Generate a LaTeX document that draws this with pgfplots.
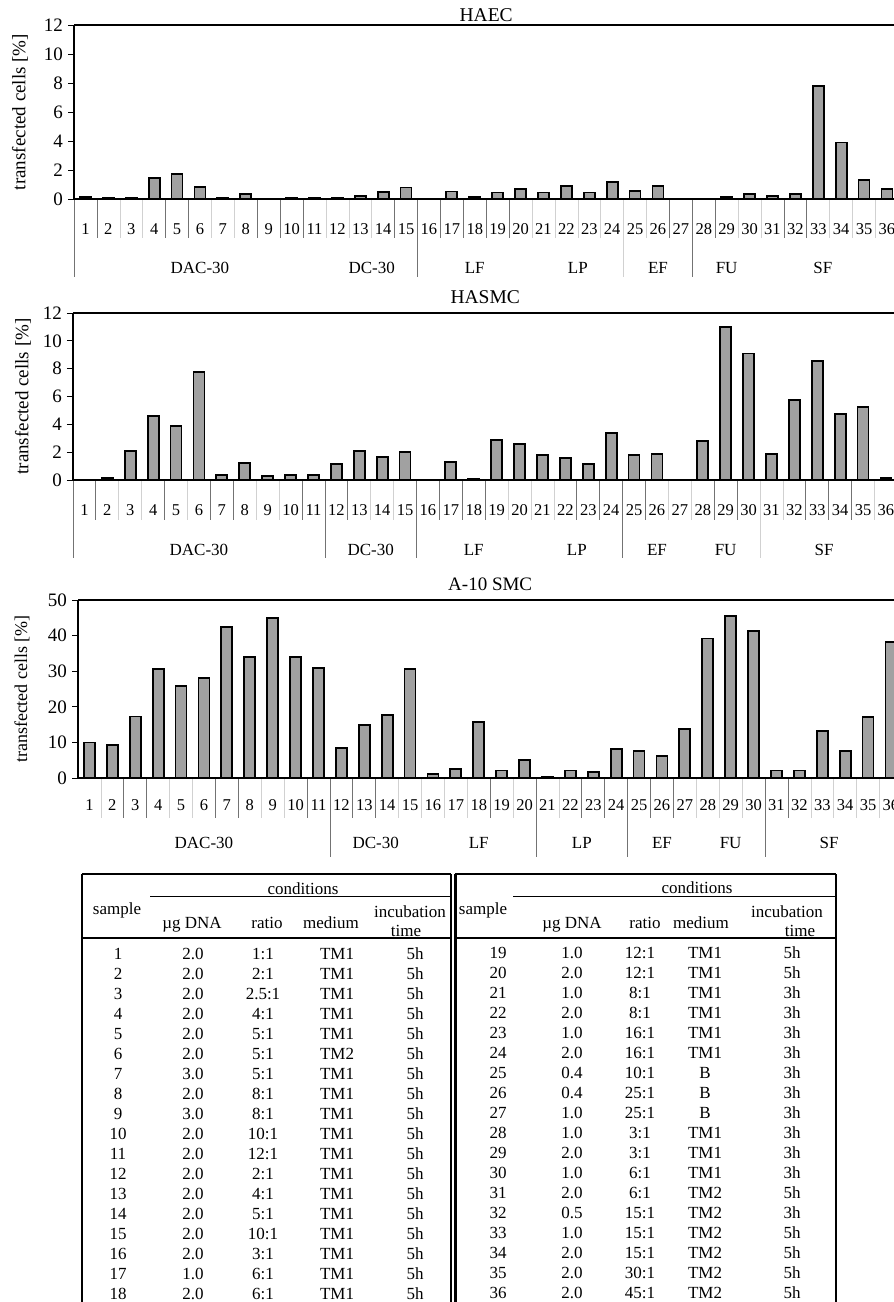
\documentclass[border=0pt]{standalone}
\usepackage{pgfplots}
\pgfplotsset{compat=1.18}
\usepackage{fontspec}
\setmainfont{Liberation Serif}
\newcommand{\fs}[1]{\fontsize{#1}{#1}\selectfont}
\pgfplotsset{
  panel/.style={
    scale only axis, width=824.4pt,
    xmin=0.5, xmax=36.5, ymin=0,
    axis line style={draw=none},
    ytick pos=left, tick align=outside,
    major tick length=6pt,
    tick style={black, line width=1pt},
    xtick=\empty,
    yticklabel style={font=\fs{19}, inner sep=5pt},
    /pgf/number format/assume math mode=true,
    ybar, bar width=11pt,
    clip=false,
    anchor=south west,
  },
  bars/.style={fill=black!37, draw=black, line width=1.8pt},
}
\tikzset{sep/.style={draw=black!55, line width=0.8pt},
         faint/.style={draw=black!18, line width=0.6pt}}
\begin{document}
\begin{tikzpicture}[x=1pt,y=-1pt]

%% ---------------- HAEC ----------------
\begin{axis}[panel, at={(74pt,-199pt)}, height=174pt, ymax=12, ytick={0,2,...,12}]
\addplot[bars] coordinates {(1,0.12)(2,0.1)(3,0.1)(4,1.45)(5,1.75)(6,0.83)(7,0.1)(8,0.35)(9,0)(10,0.1)(11,0.1)(12,0.1)(13,0.23)(14,0.46)(15,0.8)(16,0)(17,0.52)(18,0.12)(19,0.45)(20,0.7)(21,0.45)(22,0.87)(23,0.45)(24,1.17)(25,0.53)(26,0.87)(27,0)(28,0)(29,0.12)(30,0.37)(31,0.22)(32,0.37)(33,7.82)(34,3.9)(35,1.33)(36,0.69)};
\draw[line width=2.2pt] (rel axis cs:0,1) -- (rel axis cs:1,1);
\draw[line width=1.2pt] (rel axis cs:0,0) -- (rel axis cs:0,1);
\node[font=\fs{19.5}] at ([yshift=10pt]rel axis cs:0.5,1) {HAEC};
\node[font=\fs{19}, rotate=90] at ([xshift=-54pt]rel axis cs:0,0.5) {transfected cells [\%]};
\pgfplotsinvokeforeach{1,...,36}{\node[font=\fs{16.5}] at ([yshift=-30pt]axis cs:#1,0) {#1};}
\pgfplotsinvokeforeach{2.5,3.5,6.5,7.5,11.5,12.5,13.5,20.5,21.5,22.5,23.5,25.5,29.5,30.5,33.5,34.5,35.5}{\draw[faint] (axis cs:#1,0) -- ++(0pt,-39pt);}
\pgfplotsinvokeforeach{1.5,4.5,5.5,8.5,9.5,10.5,14.5,16.5,17.5,18.5,19.5,26.5,28.5,31.5,32.5}{\draw[sep] (axis cs:#1,0) -- ++(0pt,-39pt);}
\draw[faint] (axis cs:24.5,0) -- ++(0pt,-78pt);
\pgfplotsinvokeforeach{0.5,15.5,27.5}{\draw[sep] (axis cs:#1,0) -- ++(0pt,-78pt);}
\draw[line width=2.2pt] (rel axis cs:0,0) -- (rel axis cs:1,0);
\node[font=\fs{17}] at ([yshift=-69pt]axis cs:6,0) {DAC-30};
\node[font=\fs{17}] at ([yshift=-69pt]axis cs:13.5,0) {DC-30};
\node[font=\fs{17}] at ([yshift=-69pt]axis cs:18,0) {LF};
\node[font=\fs{17}] at ([yshift=-69pt]axis cs:22.5,0) {LP};
\node[font=\fs{17}] at ([yshift=-69pt]axis cs:26,0) {EF};
\node[font=\fs{17}] at ([yshift=-69pt]axis cs:29,0) {FU};
\node[font=\fs{17}] at ([yshift=-69pt]axis cs:33.2,0) {SF};
\end{axis}

%% ---------------- HASMC ----------------
\begin{axis}[panel, at={(73pt,-480pt)}, height=167pt, ymax=12, ytick={0,2,...,12}]
\addplot[bars] coordinates {(1,0)(2,0.12)(3,2.08)(4,4.6)(5,3.9)(6,7.78)(7,0.36)(8,1.24)(9,0.29)(10,0.36)(11,0.36)(12,1.15)(13,2.08)(14,1.67)(15,1.99)(16,0)(17,1.32)(18,0.1)(19,2.85)(20,2.56)(21,1.8)(22,1.6)(23,1.15)(24,3.35)(25,1.8)(26,1.87)(27,0)(28,2.82)(29,11.0)(30,9.09)(31,1.89)(32,5.74)(33,8.54)(34,4.76)(35,5.26)(36,0.15)};
\draw[line width=2.2pt] (rel axis cs:0,1) -- (rel axis cs:1,1);
\draw[line width=1.2pt] (rel axis cs:0,0) -- (rel axis cs:0,1);
\node[font=\fs{19.5}] at ([yshift=16pt]rel axis cs:0.5,1) {HASMC};
\node[font=\fs{19}, rotate=90] at ([xshift=-50pt]rel axis cs:0,0.5) {transfected cells [\%]};
\pgfplotsinvokeforeach{1,...,36}{\node[font=\fs{16.5}] at ([yshift=-30pt]axis cs:#1,0) {#1};}
\pgfplotsinvokeforeach{2.5,3.5,5.5,8.5,9.5,13.5,14.5,19.5,20.5,21.5,26.5,27.5,31.5,35.5}{\draw[faint] (axis cs:#1,0) -- ++(0pt,-40pt);}
\pgfplotsinvokeforeach{1.5,4.5,6.5,7.5,10.5,12.5,16.5,17.5,18.5,22.5,23.5,25.5,28.5,29.5,32.5,33.5,34.5}{\draw[sep] (axis cs:#1,0) -- ++(0pt,-40pt);}
\draw[faint] (axis cs:30.5,0) -- ++(0pt,-78pt);
\pgfplotsinvokeforeach{0.5,11.5,15.5,24.5}{\draw[sep] (axis cs:#1,0) -- ++(0pt,-78pt);}
\draw[line width=2.2pt] (rel axis cs:0,0) -- (rel axis cs:1,0);
\node[font=\fs{17}] at ([yshift=-70pt]axis cs:6,0) {DAC-30};
\node[font=\fs{17}] at ([yshift=-70pt]axis cs:13.5,0) {DC-30};
\node[font=\fs{17}] at ([yshift=-70pt]axis cs:18,0) {LF};
\node[font=\fs{17}] at ([yshift=-70pt]axis cs:22.5,0) {LP};
\node[font=\fs{17}] at ([yshift=-70pt]axis cs:26,0) {EF};
\node[font=\fs{17}] at ([yshift=-70pt]axis cs:29,0) {FU};
\node[font=\fs{17}] at ([yshift=-70pt]axis cs:33.3,0) {SF};
\end{axis}

%% ---------------- A-10 SMC ----------------
\begin{axis}[panel, at={(78pt,-778pt)}, height=178pt, ymax=50, ytick={0,10,...,50}]
\addplot[bars] coordinates {(1,10.0)(2,9.35)(3,17.3)(4,30.7)(5,25.9)(6,28.1)(7,42.5)(8,33.9)(9,44.9)(10,33.9)(11,31.0)(12,8.5)(13,14.8)(14,17.6)(15,30.7)(16,1.1)(17,2.6)(18,15.8)(19,2.1)(20,5.1)(21,0.4)(22,2.1)(23,1.8)(24,8.1)(25,7.7)(26,6.2)(27,13.7)(28,39.2)(29,45.4)(30,41.3)(31,2.1)(32,2.1)(33,13.2)(34,7.6)(35,17.1)(36,38.3)};
\draw[line width=1.5pt] (rel axis cs:0,1) -- (rel axis cs:1,1);
\draw[line width=1.2pt] (rel axis cs:0,0) -- (rel axis cs:0,1);
\node[font=\fs{19}] at ([yshift=16pt]rel axis cs:0.5,1) {A-10 SMC};
\node[font=\fs{18}, rotate=90] at ([xshift=-56pt]rel axis cs:0,0.5) {transfected cells [\%]};
\pgfplotsinvokeforeach{1,...,36}{\node[font=\fs{16.5}] at ([yshift=-27pt]axis cs:#1,0) {#1};}
\pgfplotsinvokeforeach{1.5,4.5,5.5,8.5,9.5,14.5,15.5,16.5,17.5,19.5,21.5,27.5,28.5,29.5,32.5,33.5,34.5,35.5}{\draw[faint] (axis cs:#1,0) -- ++(0pt,-40pt);}
\pgfplotsinvokeforeach{2.5,3.5,6.5,7.5,10.5,12.5,13.5,18.5,22.5,23.5,25.5,26.5,31.5}{\draw[sep] (axis cs:#1,0) -- ++(0pt,-40pt);}
\pgfplotsinvokeforeach{11.5,20.5,24.5,30.5}{\draw[sep] (axis cs:#1,0) -- ++(0pt,-79pt);}
\draw[line width=2.2pt] (rel axis cs:0,0) -- (rel axis cs:1,0);
\node[font=\fs{17}] at ([yshift=-65pt]axis cs:6,0) {DAC-30};
\node[font=\fs{17}] at ([yshift=-65pt]axis cs:13.5,0) {DC-30};
\node[font=\fs{17}] at ([yshift=-65pt]axis cs:18,0) {LF};
\node[font=\fs{17}] at ([yshift=-65pt]axis cs:22.5,0) {LP};
\node[font=\fs{17}] at ([yshift=-65pt]axis cs:26,0) {EF};
\node[font=\fs{17}] at ([yshift=-65pt]axis cs:29,0) {FU};
\node[font=\fs{17}] at ([yshift=-65pt]axis cs:33.3,0) {SF};
\end{axis}

%% ---------------- Table ----------------
\begin{scope}[font=\fs{17}, every node/.style={anchor=base, inner sep=0pt}]
\draw[line width=2.5pt] (82,874) -- (451,874);
\draw[line width=2.5pt] (455,874) -- (836,874);
\draw[line width=2.5pt] (82,874) -- (82,1310);
\draw[line width=1.5pt] (451,874) -- (451,1310);
\draw[line width=2.5pt] (455.5,874) -- (455.5,1310);
\draw[line width=2.5pt] (836,874) -- (836,1310);
\draw[line width=0.9pt] (150,896) -- (451,896);
\draw[line width=0.9pt] (513,896) -- (836,896);
\draw[line width=1.2pt] (82,938) -- (451,938);
\draw[line width=1.2pt] (455,938) -- (836,938);
% headers left
\node at (303,894) {conditions};
\node at (117,914) {sample};
\node at (192,928) {µg DNA};
\node at (267,928) {ratio};
\node at (331,928) {medium};
\node at (410,917) {incubation};
\node at (406,936) {time};
% headers right
\node at (697,893) {conditions};
\node at (483,914) {sample};
\node at (572,928) {µg DNA};
\node at (645,928) {ratio};
\node at (701,928) {medium};
\node at (787,917) {incubation};
\node at (800,936) {time};
\foreach \s/\d/\r/\m/\t [count=\i from 0] in {1/2.0/1:1/TM1/5h, 2/2.0/2:1/TM1/5h, 3/2.0/2.5:1/TM1/5h, 4/2.0/4:1/TM1/5h, 5/2.0/5:1/TM1/5h, 6/2.0/5:1/TM2/5h, 7/3.0/5:1/TM1/5h, 8/2.0/8:1/TM1/5h, 9/3.0/8:1/TM1/5h, 10/2.0/10:1/TM1/5h, 11/2.0/12:1/TM1/5h, 12/2.0/2:1/TM1/5h, 13/2.0/4:1/TM1/5h, 14/2.0/5:1/TM1/5h, 15/2.0/10:1/TM1/5h, 16/2.0/3:1/TM1/5h, 17/1.0/6:1/TM1/5h, 18/2.0/6:1/TM1/5h}{
  \node at (118,959+20*\i) {\s};
  \node at (193,959+20*\i) {\d};
  \node at (263,959+20*\i) {\r};
  \node at (337,959+20*\i) {\m};
  \node at (415,959+20*\i) {\t};
}
\foreach \s/\d/\r/\m/\t [count=\i from 0] in {19/1.0/12:1/TM1/5h, 20/2.0/12:1/TM1/5h, 21/1.0/8:1/TM1/3h, 22/2.0/8:1/TM1/3h, 23/1.0/16:1/TM1/3h, 24/2.0/16:1/TM1/3h, 25/0.4/10:1/B/3h, 26/0.4/25:1/B/3h, 27/1.0/25:1/B/3h, 28/1.0/3:1/TM1/3h, 29/2.0/3:1/TM1/3h, 30/1.0/6:1/TM1/3h, 31/2.0/6:1/TM2/5h, 32/0.5/15:1/TM2/3h, 33/1.0/15:1/TM2/5h, 34/2.0/15:1/TM2/5h, 35/2.0/30:1/TM2/5h, 36/2.0/45:1/TM2/5h}{
  \node at (498,958+20*\i) {\s};
  \node at (572,958+20*\i) {\d};
  \node at (640,958+20*\i) {\r};
  \node at (705,958+20*\i) {\m};
  \node at (792,958+20*\i) {\t};
}
\end{scope}

\pgfresetboundingbox
\path[use as bounding box] (0,0) rectangle (894,1302);
\end{tikzpicture}
\end{document}
